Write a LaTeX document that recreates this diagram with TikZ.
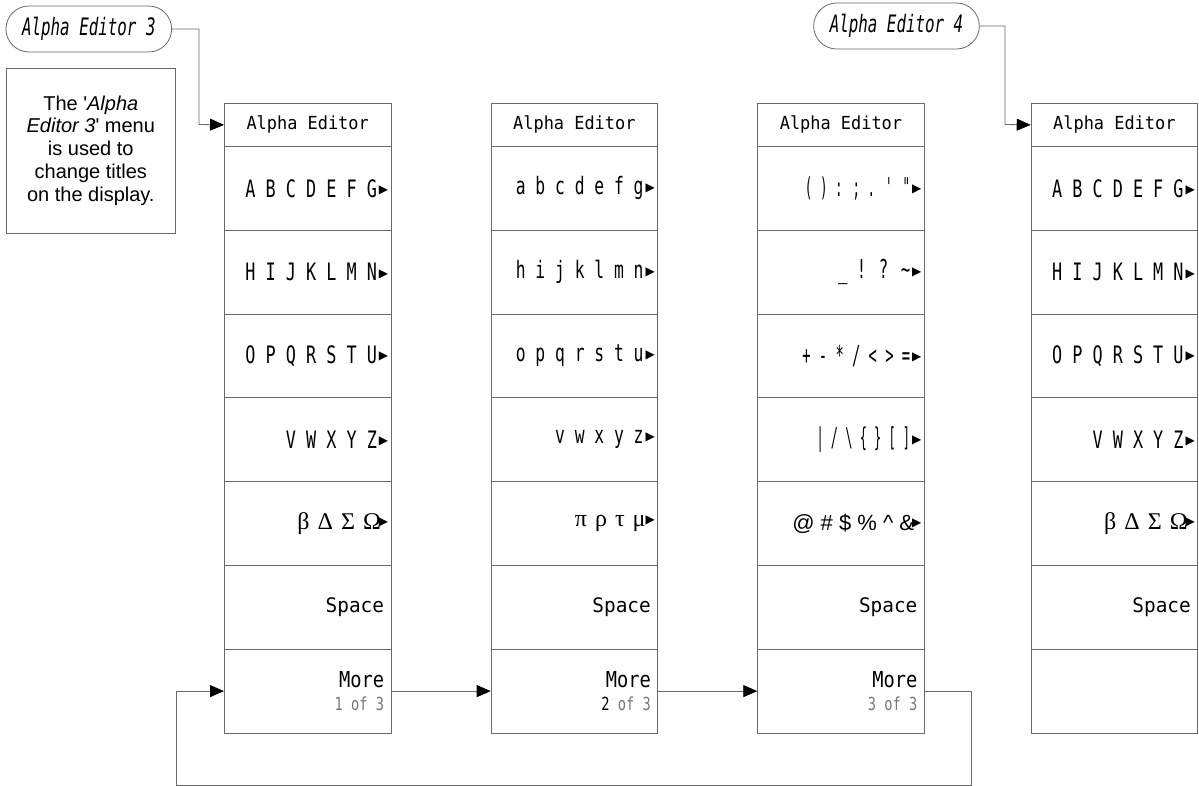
\documentclass[tikz,border=0pt]{standalone}
\usepackage{fontspec}
\usepackage{graphicx}
\setmainfont[Ligatures=TeXOff]{Liberation Sans}
\newfontfamily\hpf[Ligatures=TeXOff]{DejaVu Sans Mono}
\newfontfamily\symf{DejaVu Sans}
\newfontfamily\grk{Liberation Serif}
\usetikzlibrary{arrows.meta,calc}
\definecolor{linec}{RGB}{105,105,105}
\definecolor{subc}{RGB}{120,120,120}
\newcommand\tri{\hspace{2pt}\raisebox{3.5pt}{\symf\fontsize{12}{12}\selectfont ▶}}
\newcommand\hp[3]{\scalebox{#2}[1]{\hpf\fontsize{#1}{#1}\selectfont #3}}
\newcommand\gk[1]{{\grk\fontsize{24}{24}\selectfont #1}}
\newcommand\gsp{\hspace{8pt}}
\begin{document}
\begin{tikzpicture}[x=1pt,y=-1pt,
  cell/.style={draw=linec, line width=0.8pt, minimum width=166.5pt, minimum height=83.8pt, inner sep=0pt, anchor=north west},
  ttl/.style={draw=linec, line width=0.8pt, minimum width=166.5pt, minimum height=43pt, inner sep=0pt, anchor=north west},
  lab/.style={anchor=east, inner sep=0pt},
  more/.style={anchor=east, inner sep=0pt, align=right, font=\fontsize{22}{23}\selectfont},
  pill/.style={draw=linec, line width=0.8pt, rounded corners=23pt, minimum width=165.7pt, minimum height=46pt, inner sep=0pt},
  arr/.style={draw=linec, line width=0.8pt, -{Triangle[length=14pt,width=12pt,color=black]}}]
\fill[white] (0,0) rectangle (1199,786);
\useasboundingbox (0,0) rectangle (1199,786);

% pills and description
\node[pill] (p3) at (88.8,29) {\hp{24}{0.66}{\itshape Alpha Editor 3}};
\node[pill] (p4) at (896.5,26) {\hp{24}{0.66}{\itshape Alpha Editor 4}};
\node[draw=linec, line width=0.8pt, minimum width=168.3pt, minimum height=165pt, inner sep=0pt, align=center,
  font=\fontsize{20}{22.7}\selectfont] (desc) at (90.8,150.5)
  {The '\textit{Alpha}\\\textit{Editor 3}' menu\\is used to\\change titles\\on the display.};

% columns
\foreach \c/\x in {c1/224,c2/490.7,c3/757.3,c4/1030.7}{
  \node[ttl] (\c t) at (\x,103) {\hp{18}{0.94}{Alpha Editor}};
  \foreach \i in {1,...,7}{
    \node[cell] (\c r\i) at (\x,{146+(\i-1)*83.8}) {};
  }
}

% column 1 labels
\node[lab] (l11) at ($(c1r1.east)+(-3,0)$) {\hp{24}{0.7}{A B C D E F G}\tri};
\node[lab] (l12) at ($(c1r2.east)+(-3,0)$) {\hp{24}{0.7}{H I J K L M N}\tri};
\node[lab] (l13) at ($(c1r3.east)+(-3,0)$) {\hp{24}{0.7}{O P Q R S T U}\tri};
\node[lab] (l14) at ($(c1r4.east)+(-3,0)$) {\hp{24}{0.7}{V W X Y Z}\tri};
\node[lab] (l15) at ($(c1r5.east)+(-3,0)$) {\gk{β\gsp Δ\gsp Σ\gsp Ω}\hspace{-4pt}\tri};
\node[lab] (l16) at ($(c1r6.east)+(-7,0)$) {\hp{20}{0.97}{Space}};
\node[more] (l17) at ($(c1r7.east)+(-7,0)$) {\hp{22}{0.85}{More}\\\hp{18}{0.76}{\color{subc}1 of 3}};

% column 2 labels
\node[lab] (l21) at ($(c2r1.east)+(-3,0)$) {\hp{24}{0.68}{a b c d e f g}\tri};
\node[lab] (l22) at ($(c2r2.east)+(-3,0)$) {\hp{24}{0.68}{h i j k l m n}\tri};
\node[lab] (l23) at ($(c2r3.east)+(-3,0)$) {\hp{24}{0.68}{o p q r s t u}\tri};
\node[lab] (l24) at ($(c2r4.east)+(-3,0)$) {\hp{24}{0.68}{v w x y z}\tri};
\node[lab] (l25) at ($(c2r5.east)+(-3,0)$) {\gk{π\gsp ρ\gsp τ\gsp μ}\hspace{-2pt}\tri};
\node[lab] (l26) at ($(c2r6.east)+(-7,0)$) {\hp{20}{0.97}{Space}};
\node[more] (l27) at ($(c2r7.east)+(-7,0)$) {\hp{22}{0.85}{More}\\\hp{18}{0.76}{2 \color{subc}of 3}};

% column 3 labels
\node[lab] (l31) at ($(c3r1.east)+(-3,0)$) {\hp{26}{0.48}{( ) : ; . ' "}\tri};
\node[lab] (l32) at ($(c3r2.east)+(-3,0)$) {\hp{26}{0.6}{\_ ! ? \textasciitilde}\tri};
\node[lab] (l33) at ($(c3r3.east)+(-3,0)$) {\hp{26}{0.53}{+ - * / < > =}\tri};
\node[lab] (l34) at ($(c3r4.east)+(-3,0)$) {\hp{26}{0.46}{| / \textbackslash\ \{ \} [ ]}\tri};
\node[lab] (l35) at ($(c3r5.east)+(-3,0)$) {{\fontsize{22}{22}\selectfont @ \# \$ \% \textasciicircum\ \&}\hspace{-4pt}\tri};
\node[lab] (l36) at ($(c3r6.east)+(-7,0)$) {\hp{20}{0.97}{Space}};
\node[more] (l37) at ($(c3r7.east)+(-7,0)$) {\hp{22}{0.85}{More}\\\hp{18}{0.76}{\color{subc}3 of 3}};

% column 4 labels
\node[lab] (l41) at ($(c4r1.east)+(-3,0)$) {\hp{24}{0.7}{A B C D E F G}\tri};
\node[lab] (l42) at ($(c4r2.east)+(-3,0)$) {\hp{24}{0.7}{H I J K L M N}\tri};
\node[lab] (l43) at ($(c4r3.east)+(-3,0)$) {\hp{24}{0.7}{O P Q R S T U}\tri};
\node[lab] (l44) at ($(c4r4.east)+(-3,0)$) {\hp{24}{0.7}{V W X Y Z}\tri};
\node[lab] (l45) at ($(c4r5.east)+(-3,0)$) {\gk{β\gsp Δ\gsp Σ\gsp Ω}\hspace{-4pt}\tri};
\node[lab] (l46) at ($(c4r6.east)+(-7,0)$) {\hp{20}{0.97}{Space}};

% connectors
\coordinate (k3) at (199,124.5);
\coordinate (k4) at (1005,124.5);
\coordinate (lr) at (971.7,785);
\coordinate (ll) at (176,785);
\draw[arr] (p3.east) -| (k3) -- (c1t.west);
\draw[arr] (p4.east) -| (k4) -- (c4t.west);
\draw[arr] (c1r7.east) -- (c2r7.west);
\draw[arr] (c2r7.east) -- (c3r7.west);
\draw[arr] (c3r7.east) -| (lr) -- (ll) |- (c1r7.west);
\end{tikzpicture}
\end{document}
